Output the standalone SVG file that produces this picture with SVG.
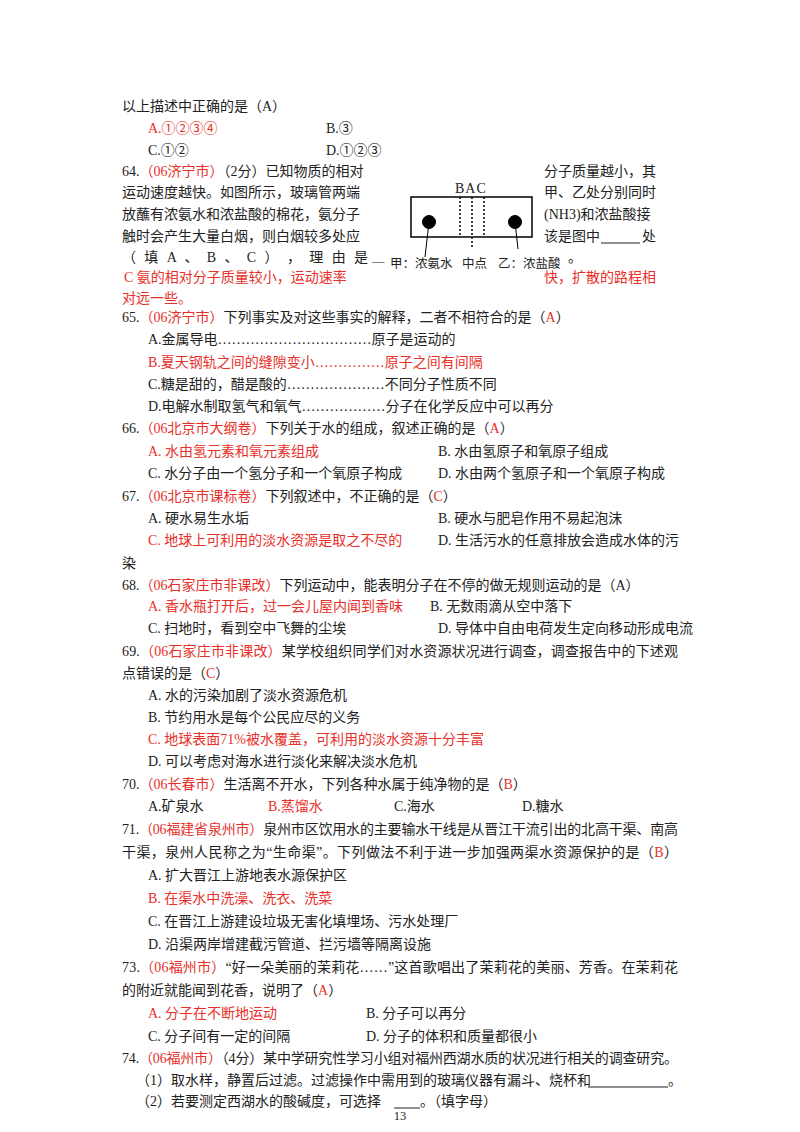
<svg xmlns="http://www.w3.org/2000/svg" width="800" height="1132" viewBox="0 0 800 1132">
<style>
text{font-family:"Liberation Serif","Noto Sans CJK SC",serif;font-size:14px;fill:#222}
.r{fill:#e8302a}
.s{font-size:12.5px}
</style>
<rect width="800" height="1132" fill="#fff"/>
<text x="122" y="111">以上描述中正确的是（A）</text>
<text x="148" y="133" class="r">A.①②③④</text><text x="326" y="133">B.③</text>
<text x="148" y="155">C.①②</text><text x="326" y="155">D.①②③</text>
<text x="122" y="176">64.<tspan class="r">（06济宁市）</tspan>（2分）已知物质的相对</text>
<text x="544" y="176">分子质量越小，其</text>
<text x="122" y="197">运动速度越快。如图所示，玻璃管两端</text><text x="544" y="197">甲、乙处分别同时</text>
<text x="122" y="219">放蘸有浓氨水和浓盐酸的棉花，氨分子</text><text x="544" y="219">(NH3)和浓盐酸接</text>
<text x="122" y="241">触时会产生大量白烟，则白烟较多处应</text><text x="544" y="241">该是图中</text><text x="642" y="241">处</text>
<line x1="601" y1="243" x2="640" y2="243" stroke="#222"/>
<text x="122" y="262" textLength="246">（ 填 A 、 B 、 C ） ， 理 由 是</text><text x="372" y="265" class="s">—</text><text x="568" y="262">。</text>
<text x="124" y="282" class="r">C  氨的相对分子质量较小，运动速率</text><text x="544" y="282" class="r">快，扩散的路程相</text>
<text x="122" y="303" class="r">对远一些。</text>
<g id="figure" fill="none" stroke="#000">
<rect x="411" y="197" width="121" height="40" stroke-width="1.5"/>
<g stroke-dasharray="2,2" stroke-width="1.5"><line x1="460" y1="197" x2="460" y2="237"/><line x1="472" y1="197" x2="472" y2="248"/><line x1="484" y1="197" x2="484" y2="237"/></g>
<circle cx="429" cy="222" r="6.5" fill="#000"/><circle cx="515" cy="222" r="6.5" fill="#000"/>
<line x1="429" y1="222" x2="425" y2="257"/><line x1="515" y1="222" x2="518" y2="249"/>
</g>
<text x="455" y="193" letter-spacing="1">BAC</text>
<text x="390" y="268" class="s">甲：浓氨水</text><text x="462" y="268" class="s">中点</text><text x="498" y="268" class="s">乙：浓盐酸</text>
<text x="122" y="322">65.<tspan class="r">（06济宁市）</tspan>下列事实及对这些事实的解释，二者不相符合的是（<tspan class="r">A</tspan>）</text>
<text x="148" y="344">A.金属导电……………………………原子是运动的</text>
<text x="148" y="367" class="r">B.夏天钢轨之间的缝隙变小……………原子之间有间隔</text>
<text x="148" y="389">C.糖是甜的，醋是酸的…………………不同分子性质不同</text>
<text x="148" y="411">D.电解水制取氢气和氧气………………分子在化学反应中可以再分</text>
<text x="122" y="433">66.<tspan class="r">（06北京市大纲卷）</tspan>下列关于水的组成，叙述正确的是（<tspan class="r">A</tspan>）</text>
<text x="148" y="456" class="r">A. 水由氢元素和氧元素组成</text><text x="438" y="456">B. 水由氢原子和氧原子组成</text>
<text x="148" y="478">C. 水分子由一个氢分子和一个氧原子构成</text><text x="438" y="478">D. 水由两个氢原子和一个氧原子构成</text>
<text x="122" y="501">67.<tspan class="r">（06北京市课标卷）</tspan>下列叙述中，不正确的是（<tspan class="r">C</tspan>）</text>
<text x="148" y="523">A. 硬水易生水垢</text><text x="438" y="523">B. 硬水与肥皂作用不易起泡沫</text>
<text x="148" y="545" class="r">C. 地球上可利用的淡水资源是取之不尽的</text><text x="438" y="545">D. 生活污水的任意排放会造成水体的污</text>
<text x="122" y="568">染</text>
<text x="122" y="590">68.<tspan class="r">（06石家庄市非课改）</tspan>下列运动中，能表明分子在不停的做无规则运动的是（A）</text>
<text x="148" y="611" class="r">A. 香水瓶打开后，过一会儿屋内闻到香味</text><text x="430" y="611">B. 无数雨滴从空中落下</text>
<text x="148" y="633">C. 扫地时，看到空中飞舞的尘埃</text><text x="438" y="633">D. 导体中自由电荷发生定向移动形成电流</text>
<text x="122" y="656" textLength="556">69.<tspan class="r">（06石家庄市非课改）</tspan>某学校组织同学们对水资源状况进行调查，调查报告中的下述观</text>
<text x="122" y="678">点错误的是（<tspan class="r">C</tspan>）</text>
<text x="148" y="700">A. 水的污染加剧了淡水资源危机</text>
<text x="148" y="722">B. 节约用水是每个公民应尽的义务</text>
<text x="148" y="744" class="r">C. 地球表面71%被水覆盖，可利用的淡水资源十分丰富</text>
<text x="148" y="766">D. 可以考虑对海水进行淡化来解决淡水危机</text>
<text x="122" y="789">70.<tspan class="r">（06长春市）</tspan>生活离不开水，下列各种水属于纯净物的是（<tspan class="r">B</tspan>）</text>
<text x="148" y="811">A.矿泉水</text><text x="268" y="811" class="r">B.蒸馏水</text><text x="394" y="811">C.海水</text><text x="522" y="811">D.糖水</text>
<text x="122" y="834" textLength="556">71.<tspan class="r">（06福建省泉州市）</tspan>泉州市区饮用水的主要输水干线是从晋江干流引出的北高干渠、南高</text>
<text x="122" y="857" textLength="556">干渠，泉州人民称之为“生命渠”。下列做法不利于进一步加强两渠水资源保护的是（<tspan class="r">B</tspan>）</text>
<text x="148" y="880">A. 扩大晋江上游地表水源保护区</text>
<text x="148" y="903" class="r">B. 在渠水中洗澡、洗衣、洗菜</text>
<text x="148" y="926">C. 在晋江上游建设垃圾无害化填埋场、污水处理厂</text>
<text x="148" y="949">D. 沿渠两岸增建截污管道、拦污墙等隔离设施</text>
<text x="122" y="972" textLength="556">73.<tspan class="r">（06福州市）</tspan>“好一朵美丽的茉莉花……”这首歌唱出了茉莉花的美丽、芳香。在茉莉花</text>
<text x="122" y="995">的附近就能闻到花香，说明了（<tspan class="r">A</tspan>）</text>
<text x="148" y="1018" class="r">A. 分子在不断地运动</text><text x="366" y="1018">B. 分子可以再分</text>
<text x="148" y="1041">C. 分子间有一定的间隔</text><text x="366" y="1041">D. 分子的体积和质量都很小</text>
<text x="122" y="1063" textLength="556">74.<tspan class="r">（06福州市）</tspan>（4分）某中学研究性学习小组对福州西湖水质的状况进行相关的调查研究。</text>
<text x="136" y="1085">（1）取水样，静置后过滤。过滤操作中需用到的玻璃仪器有漏斗、烧杯和</text>
<line x1="588" y1="1087" x2="668" y2="1087" stroke="#222"/><text x="668" y="1085">。</text>
<text x="136" y="1106">（2）若要测定西湖水的酸碱度，可选择</text>
<line x1="394" y1="1108" x2="420" y2="1108" stroke="#222"/><text x="420" y="1106">。（填字母）</text>
<text x="400" y="1120" class="s" text-anchor="middle">13</text>
</svg>
